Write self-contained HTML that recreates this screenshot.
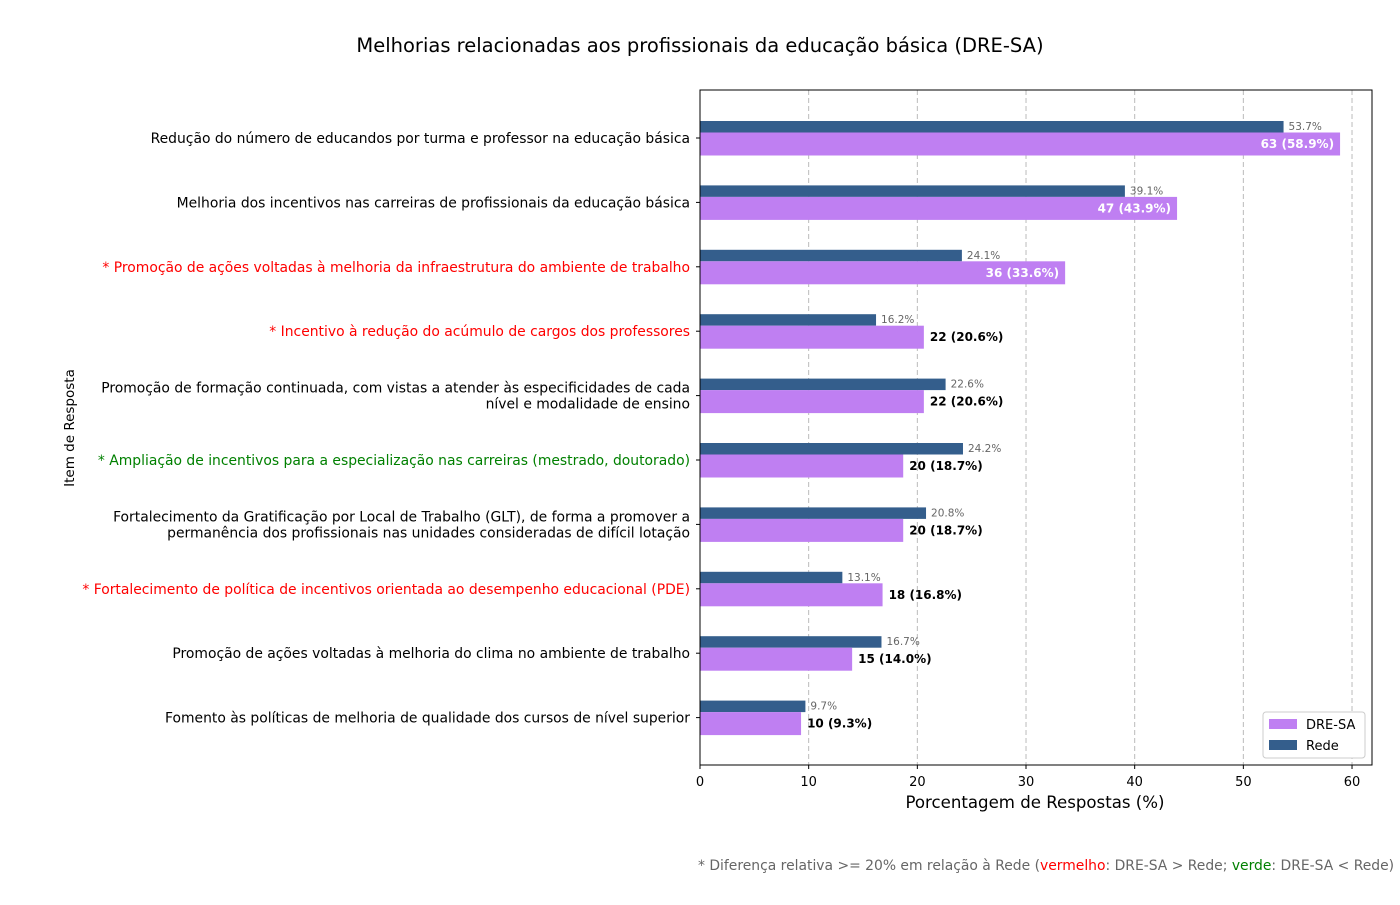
<!DOCTYPE html>
<html><head><meta charset="utf-8"><style>
body{margin:0;background:#fff;font-family:"Liberation Sans","DejaVu Sans",sans-serif;}
svg text{font-family:"DejaVu Sans","Liberation Sans",sans-serif;}
</style></head><body>
<svg id="chart" width="1400" height="900" xmlns="http://www.w3.org/2000/svg">
<text x="700" y="52" text-anchor="middle" font-size="19.5">Melhorias relacionadas aos profissionais da educação básica (DRE-SA)</text>
<g id="grid"></g><g id="bars"></g><g id="labels"></g>
<rect x="700" y="90" width="672" height="675" fill="none" stroke="#000" stroke-width="1"/>
<g id="xaxis"></g>
<text x="1035" y="808" text-anchor="middle" font-size="16.6">Porcentagem de Respostas (%)</text>
<text x="74" y="428" text-anchor="middle" font-size="13.5" transform="rotate(-90 74 428)">Item de Resposta</text>
<g>
<rect x="1263" y="712" width="102" height="46" fill="#fff" stroke="#ccc" rx="3"/>
<rect x="1269" y="719" width="28" height="10" fill="#bf7ff2"/>
<text x="1306" y="729" font-size="13">DRE-SA</text>
<rect x="1269" y="740" width="28" height="10" fill="#345e8c"/>
<text x="1306" y="750" font-size="13">Rede</text>
</g>
<text x="698" y="870" font-size="13.9" fill="#666">* Diferença relativa &gt;= 20% em relação à Rede (<tspan fill="red">vermelho</tspan>: DRE-SA &gt; Rede; <tspan fill="green">verde</tspan>: DRE-SA &lt; Rede)</text>
</svg>
<script>
const categories=[
["Redução do número de educandos por turma e professor na educação básica"],
["Melhoria dos incentivos nas carreiras de profissionais da educação básica"],
["* Promoção de ações voltadas à melhoria da infraestrutura do ambiente de trabalho"],
["* Incentivo à redução do acúmulo de cargos dos professores"],
["Promoção de formação continuada, com vistas a atender às especificidades de cada","nível e modalidade de ensino"],
["* Ampliação de incentivos para a especialização nas carreiras (mestrado, doutorado)"],
["Fortalecimento da Gratificação por Local de Trabalho (GLT), de forma a promover a","permanência dos profissionais nas unidades consideradas de difícil lotação"],
["* Fortalecimento de política de incentivos orientada ao desempenho educacional (PDE)"],
["Promoção de ações voltadas à melhoria do clima no ambiente de trabalho"],
["Fomento às políticas de melhoria de qualidade dos cursos de nível superior"]];
const labelColors=["#000","#000","red","red","#000","green","#000","red","#000","#000"];
const dreValues=[58.9,43.9,33.6,20.6,20.6,18.7,18.7,16.8,14.0,9.3];
const dreCounts=[63,47,36,22,22,20,20,18,15,10];
const redeValues=[53.7,39.1,24.1,16.2,22.6,24.2,20.8,13.1,16.7,9.7];
const xTicks=[0,10,20,30,40,50,60];
const NS="http://www.w3.org/2000/svg";
const x=v=>700+v*10.867;
const yc=i=>138+i*64.4;
function mk(tag,attrs,parent,txt){const e=document.createElementNS(NS,tag);for(const k in attrs)e.setAttribute(k,attrs[k]);if(txt!==undefined)e.textContent=txt;document.getElementById(parent).appendChild(e);return e;}
xTicks.forEach(t=>{
 if(t>0){const g=mk('line',{x1:x(t),x2:x(t),y1:90,y2:765,stroke:'#bbb','stroke-dasharray':'5,3'},'grid');
 
 }
 const tk=mk('line',{x1:x(t),x2:x(t),y1:765,y2:769,stroke:'#000'},'xaxis');
 
 
 const tl=mk('text',{x:x(t),y:786,'text-anchor':'middle','font-size':13},'xaxis',String(t));
 
 
});
categories.forEach((lines,i)=>{
 const c=yc(i);
 const tk=mk('line',{x1:696,x2:700,y1:c,y2:c,stroke:'#000'},'xaxis');
 
 
 lines.forEach((ln,j)=>{
  const yy=c+5+(j-(lines.length-1)/2)*16;
  const t=mk('text',{x:690,y:yy,'text-anchor':'end','font-size':13.9,fill:labelColors[i]},'labels',ln);
  
  
 });
 const r=mk('rect',{x:700,y:c-17,width:x(redeValues[i])-700,height:11.5,fill:'#345e8c'},'bars');
 
 
 const rl=mk('text',{x:x(redeValues[i])+5,y:c-8,'font-size':10.5,fill:'#666'},'labels',redeValues[i].toFixed(1)+'%');
 
 
 const d=mk('rect',{x:700,y:c-5.5,width:x(dreValues[i])-700,height:23,fill:'#bf7ff2'},'bars');
 
 
 const txt=dreCounts[i]+' ('+dreValues[i].toFixed(1)+'%)';
 const inside=dreValues[i]>30;
 const dl=mk('text',{x:inside?x(dreValues[i])-6:x(dreValues[i])+6,y:c+10,'text-anchor':inside?'end':'start','font-size':12,'font-weight':'bold',fill:inside?'#fff':'#000'},'labels',txt);
 
 
});
</script>
</body></html>
